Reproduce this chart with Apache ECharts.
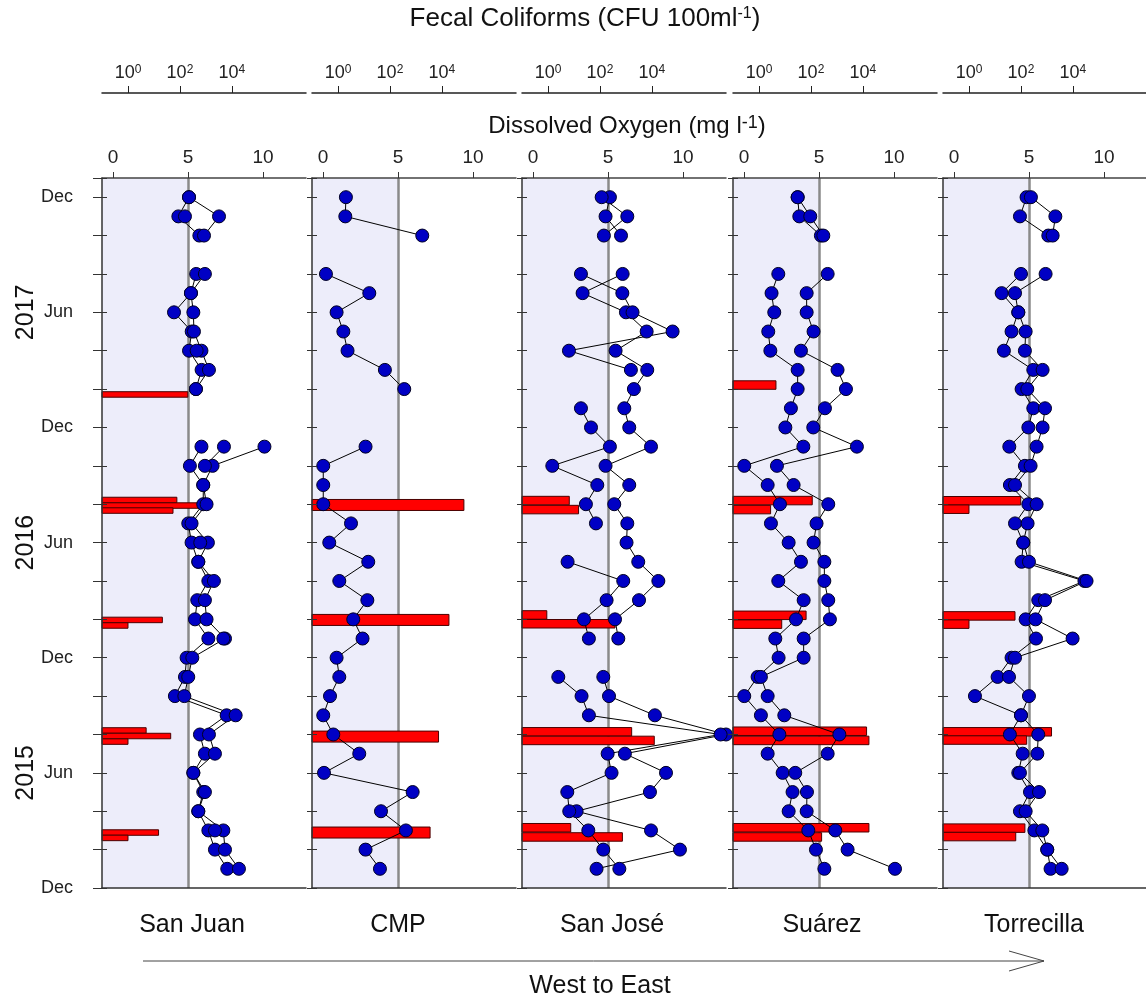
<!DOCTYPE html>
<html lang="en">
<head>
<meta charset="UTF-8">
<title>Dissolved oxygen and fecal coliforms</title>
<script src="https://cdn.jsdelivr.net/npm/echarts@6.0.0/dist/echarts.min.js"></script>
<style>
  html, body { margin: 0; background: #fff; }
  #chart { width: 1146px; height: 999px; }
</style>
</head>
<body>
<div id="chart"></div>
<script>
// month index: 0 = Dec 2014, 1 = Jan 2015 ... 36 = Dec 2017
var stations = ['San Juan', 'CMP', 'San José', 'Suárez', 'Torrecilla'];
var doTicks = [0, 5, 10];
var fcTicks = [0, 2, 4];            // exponents of 10
var monthNames = {0: 'Dec', 6: 'Jun'};
var yearMonths = [6, 18, 30];
var yearNames = ['2015', '2016', '2017'];

// dissolved oxygen (mg/l), one value per month, null = no sample
var sanJuanA = [null,
  7.62, 6.8, 6.36, 5.69, 6.02, 5.36, 6.13, 5.8, 7.58, 4.13, 4.8, 4.91,
  6.36, 5.47, 5.62, 6.36, 5.69, 5.24, 5.02, 6.02, 6.02, 5.13, 5.9, null,
  null, 5.53, 5.91, 5.07, 5.25, 4.07, 5.2, 5.55, null, 5.76, 4.36, 5.07];
var sanJuanB = [null,
  8.4, 7.47, 7.36, 5.69, 6.13, 5.36, 6.8, 6.4, 8.18, 4.76, 5.02, 5.29,
  7.47, 6.24, 6.13, 6.73, 5.69, 6.33, 5.24, 6.24, 6.02, 6.64, 10.1, null,
  null, 5.53, 6.4, 5.9, 5.4, 5.36, 5.2, 6.13, null, 6.07, 7.07, 5.07];
var sanJuanC = [null,
  null, null, 6.8, null, null, null, null, null, null, null, null, null,
  7.36, null, null, null, null, 5.82, null, null, null, 6.13, 7.4, null,
  null, null, null, 5.58, null, null, null, null, null, null, 4.8, null];
var cmpDO = [null,
  3.8, 2.84, 5.53, 3.87, 5.98, 0.07, 2.42, 0.69, 0.02, 0.47, 1.09, 0.91,
  2.64, 2.02, 2.96, 1.09, 3.02, 0.42, 1.87, 0.02, 0.02, 0.02, 2.84, null,
  null, 5.42, 4.13, 1.64, 1.36, 0.91, 3.09, 0.2, null, 6.62, 1.49, 1.53];
var sanJoseA = [null,
  4.24, 9.8, 7.87, 2.91, 7.8, 8.87, 6.13, 12.87, 8.13, 5.07, 4.69, null,
  5.69, 5.47, 7.07, 8.36, 7.02, 6.24, 6.29, 5.42, 6.42, 4.84, 7.87, 6.42,
  6.09, 6.73, 7.62, 5.51, 7.58, 6.2, 3.31, 5.98, null, 5.87, 4.84, 5.13];
var sanJoseB = [null,
  5.76, 4.69, 3.69, 2.42, 2.29, 5.24, 4.98, 12.51, 3.73, 3.24, 1.69, null,
  3.73, 3.4, 4.91, 6.02, 2.31, null, 4.2, 3.53, 4.29, 1.29, 5.13, 3.87,
  3.2, null, 6.53, 2.4, 9.31, 6.64, 5.96, 3.2, null, 4.73, 6.29, 4.58];
var suarezA = [null,
  5.36, 4.8, 4.29, 2.98, 3.24, 2.58, 1.58, 2.36, 1.13, 0.02, 0.91, 2.31,
  2.09, 3.47, 3.98, 2.29, 3.8, 2.98, 1.8, 2.4, 1.58, 0.02, 3.96, 2.76,
  3.13, 3.58, 3.58, 1.76, 1.62, 2.02, 1.84, 2.29, null, 5.13, 3.69, 3.58];
var suarezB = [null,
  10.07, 6.91, 6.09, 4.18, 4.2, 3.42, 5.58, 6.36, 2.69, 1.58, 1.13, 3.98,
  3.98, 5.73, 5.62, 5.36, 5.36, 4.64, 4.84, 5.62, 3.31, 2.2, 7.53, 4.62,
  5.4, 6.8, 6.24, 3.8, 4.64, 4.18, 4.18, 5.58, null, 5.29, 4.42, 3.58];
var torreA = [null,
  6.44, 6.22, 5.36, 4.4, 5.07, 4.29, 4.58, 3.73, 4.47, 1.4, 2.91, 3.84,
  5.47, 4.78, 5.62, 8.7, 4.51, 4.62, 4.07, 4.96, 3.73, 4.73, 3.69, 4.96,
  5.29, 4.51, 5.29, 3.33, 3.84, 4.29, 3.18, 4.47, null, 6.29, 4.4, 4.84];
var torreB = [null,
  7.18, 6.22, 5.89, 4.78, 5.67, 4.4, 5.56, 5.62, 4.47, 5.0, 3.67, 4.07,
  7.91, 5.44, 6.07, 8.84, 5.0, 4.62, 4.91, 5.51, 4.07, 5.11, 5.51, 5.91,
  6.07, 4.89, 5.91, 4.73, 4.78, 4.29, 4.07, 6.11, null, 6.58, 6.76, 5.13];

// fecal coliforms (CFU/100ml) and the month position of each bar
var sanJuanFcMonth = [25.72, 20.22, 19.93, 19.67, 13.97, 13.68, 8.21, 7.92, 7.63, 2.89, 2.61];
var sanJuanFc = [200, 76, 650, 54, 21, 1, 5, 44, 1, 15, 1];
var cmpFcMonth = [19.96, 13.97, 7.89, 2.89];
var cmpFc = [70000, 18600, 7400, 3500];
var sanJoseFcMonth = [20.19, 19.72, 14.23, 13.77, 8.14, 7.69, 3.14, 2.66];
var sanJoseFc = [6.6, 15, 0.9, 380, 1660, 12300, 7.5, 730];
var suarezFcMonth = [26.21, 20.19, 19.72, 14.21, 13.75, 8.17, 7.69, 3.14, 2.66];
var suarezFc = [4.5, 112, 2.8, 65, 7.5, 13800, 17000, 17000, 257];
var torreFcMonth = [20.18, 19.74, 14.18, 13.75, 8.14, 7.71, 3.12, 2.68];
var torreFc = [98, 1, 59, 1, 1500, 166, 142, 63];

var doSeries = [[sanJuanA, sanJuanB, sanJuanC], [cmpDO], [sanJoseA, sanJoseB], [suarezA, suarezB], [torreA, torreB]];
var fcMonths = [sanJuanFcMonth, cmpFcMonth, sanJoseFcMonth, suarezFcMonth, torreFcMonth];
var fcValues = [sanJuanFc, cmpFc, sanJoseFc, suarezFc, torreFc];

var FONT = '"Liberation Sans", Arial, sans-serif';
var gridLeft = [102, 312, 522, 733, 943];
var barThick = [5.5, 11, 8.5, 8.5, 8.5];
var stationX = [192, 398, 612, 822, 1034];

var grids = [], xAxes = [], yAxes = [], series = [], graphics = [];

function barRenderer(h) {
  return function (params, api) {
    var end = api.coord([api.value(0), api.value(1)]);
    var x0 = params.coordSys.x;
    return {
      type: 'rect',
      shape: {x: x0, y: end[1] - h / 2, width: end[0] - x0, height: h},
      style: {fill: '#ff0000', stroke: '#4a0000', lineWidth: 1}
    };
  };
}

for (var i = 0; i < 5; i++) {
  grids.push({left: gridLeft[i], top: 178, width: 204, height: 710, outerBoundsMode: 'none'});

  // dissolved oxygen axis on top
  xAxes.push({
    gridIndex: i, type: 'value', position: 'top', min: -0.73, max: 12.87, z: 5,
    axisLine: {show: true, onZero: false, lineStyle: {color: '#444', width: 1.5}},
    axisTick: {show: true, length: 6, customValues: doTicks, lineStyle: {color: '#333'}},
    axisLabel: {customValues: doTicks, margin: 11, fontSize: 19, color: '#222', fontFamily: FONT},
    splitLine: {show: false}
  });
  // fecal coliform axis above it (log10 units)
  xAxes.push({
    gridIndex: i, type: 'value', position: 'top', offset: 85, min: -1, max: 6.85, z: 5,
    axisLine: {show: true, onZero: false, lineStyle: {color: '#222', width: 1.5}},
    axisTick: {show: true, length: 7, customValues: fcTicks, lineStyle: {color: '#222'}},
    axisLabel: {
      customValues: fcTicks, margin: 11, fontSize: 18, color: '#222', fontFamily: FONT,
      formatter: function (v) { return '10{s|' + v + '}'; },
      rich: {s: {fontSize: 12, verticalAlign: 'top', fontFamily: FONT, color: '#222'}}
    },
    splitLine: {show: false}
  });
  // bottom border
  xAxes.push({
    gridIndex: i, type: 'value', position: 'bottom', min: 0, max: 1, z: 5,
    axisLine: {show: true, onZero: false, lineStyle: {color: '#333', width: 1.5}},
    axisTick: {show: false}, axisLabel: {show: false}, splitLine: {show: false}
  });

  var yMain = yAxes.length;
  yAxes.push({
    gridIndex: i, type: 'value', position: 'left', min: 0, max: 37, interval: 2, z: 5,
    axisLine: {show: true, onZero: false, lineStyle: {color: '#333', width: 1.5}},
    axisTick: {show: true, length: i === 0 ? 9 : 5, lineStyle: {color: '#333'}},
    axisLabel: {
      show: i === 0, margin: 29, fontSize: 18, color: '#222', fontFamily: FONT,
      formatter: function (v) { return monthNames[v % 12] || ''; }
    },
    splitLine: {show: false}
  });
  yAxes.push({
    gridIndex: i, type: 'value', position: 'left', min: 0, max: 37, interval: 2, z: 5,
    axisLine: {show: false, onZero: false},
    axisTick: {show: true, inside: true, length: 5, lineStyle: {color: '#333'}},
    axisLabel: {show: false}, splitLine: {show: false}
  });

  // fecal coliform bars
  series.push({
    type: 'custom', xAxisIndex: i * 3 + 1, yAxisIndex: yMain, z: 2, silent: true,
    encode: {x: 0, y: 1},
    data: fcMonths[i].map(function (m, k) { return [Math.log10(fcValues[i][k]), m]; }),
    renderItem: barRenderer(barThick[i])
  });

  // dissolved oxygen lines
  doSeries[i].forEach(function (arr, k) {
    var s = {
      type: 'line', xAxisIndex: i * 3, yAxisIndex: yMain, z: 3, clip: false,
      silent: true, connectNulls: false, showAllSymbol: true,
      symbol: 'circle', symbolSize: 13,
      itemStyle: {color: '#0000c4', borderColor: '#000022', borderWidth: 1},
      lineStyle: {color: '#000', width: 1},
      data: arr.map(function (v, m) { return v == null ? ['-', m] : [v, m]; })
    };
    if (k === 0) {
      s.markArea = {silent: true, z: 1, itemStyle: {color: '#ededfa'},
        data: [[{xAxis: -0.73}, {xAxis: 5}]]};
      s.markLine = {silent: true, z: 1.5, symbol: 'none', label: {show: false},
        lineStyle: {color: '#8a8a8a', width: 2.5, type: 'solid'},
        data: [{xAxis: 5}]};
    }
    series.push(s);
  });

  graphics.push({
    type: 'text', x: stationX[i], y: 925, z: 10,
    style: {text: stations[i], fontSize: 25, fontFamily: FONT, fill: '#111', align: 'center', verticalAlign: 'middle'}
  });
}

// year labels on the first panel
yAxes.push({
  gridIndex: 0, type: 'value', position: 'left', min: 0, max: 37, z: 6,
  axisLine: {show: false, onZero: false}, axisTick: {show: false}, splitLine: {show: false},
  axisLabel: {
    customValues: yearMonths, rotate: 90, margin: 63, fontSize: 25, color: '#111', fontFamily: FONT,
    formatter: function (v) { return yearNames[yearMonths.indexOf(v)] || ''; }
  }
});

graphics.push(
  {type: 'text', x: 585, y: 19, z: 10,
    style: {text: 'Fecal Coliforms (CFU 100ml{s|-1})', fontSize: 26, fontFamily: FONT, fill: '#111',
      align: 'center', verticalAlign: 'middle',
      rich: {s: {fontSize: 16, verticalAlign: 'top', fontFamily: FONT, fill: '#111'}}}},
  {type: 'text', x: 627, y: 126, z: 10,
    style: {text: 'Dissolved Oxygen (mg l{s|-1})', fontSize: 24, fontFamily: FONT, fill: '#111',
      align: 'center', verticalAlign: 'middle',
      rich: {s: {fontSize: 18, verticalAlign: 'top', fontFamily: FONT, fill: '#111'}}}},
  {type: 'line', shape: {x1: 143, y1: 961, x2: 1044, y2: 961}, style: {stroke: '#444', lineWidth: 1}},
  {type: 'polyline', shape: {points: [[1009, 951], [1044, 961], [1009, 971]]}, style: {stroke: '#444', lineWidth: 1, fill: null}},
  {type: 'text', x: 600, y: 986, z: 10,
    style: {text: 'West to East', fontSize: 25, fontFamily: FONT, fill: '#111', align: 'center', verticalAlign: 'middle'}}
);

var chart = echarts.init(document.getElementById('chart'));
chart.setOption({
  animation: false,
  backgroundColor: '#fff',
  grid: grids,
  xAxis: xAxes,
  yAxis: yAxes,
  series: series,
  graphic: graphics
});
</script>
</body>
</html>
